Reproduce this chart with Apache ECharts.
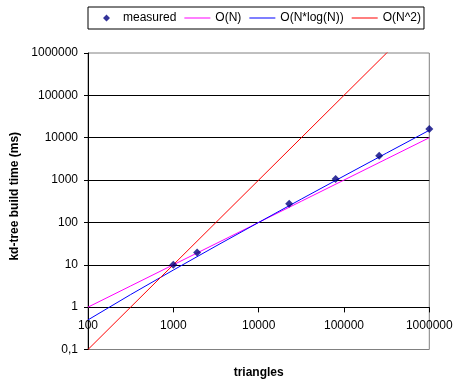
<!DOCTYPE html>
<html>
<head>
<meta charset="utf-8">
<script src="https://cdn.jsdelivr.net/npm/echarts@6/dist/echarts.min.js"></script>
<style>html,body{margin:0;padding:0;background:#fff}#c{width:460px;height:381px}</style>
</head>
<body>
<div id="c"></div>
<script>
// measured data
const measuredX = [1000, 1900, 22800, 79800, 258800, 1000000];
const measuredY = [10, 19.6, 276, 1057, 3750, 16000];
// reference curves
const refX   = [100, 316, 1000, 3162, 10000, 31623, 100000, 316228, 1000000];
const oN     = [1, 3.16, 10, 31.6, 100, 316, 1000, 3162, 10000];
const oNlogN = [0.5, 1.98, 7.5, 27.7, 100, 356, 1250, 4348, 15000];
const oN2    = [0.1, 1, 10, 100, 1000, 10000, 100000, 1000000, 10000000];
// tick labels
const xTickLabels = ['100', '1000', '10000', '100000', '1000000'];
const yTickLabels = ['0,1', '1', '10', '100', '1000', '10000', '100000', '1000000'];
const seriesNames = ['measured', 'O(N)', 'O(N*log(N))', 'O(N^2)'];

const font = 'Arial, "Liberation Sans", sans-serif';
const pairs = (xs, ys) => xs.map((x, i) => [x, ys[i]]);
// icons: tiny corner specks keep the icon bounding box at 26x8
const lineIcon = 'path://M0,0L0.01,0L0.01,0.01ZM0,3.5L26,3.5L26,4.5L0,4.5ZM26,8L25.99,8L25.99,7.99Z';
const diamondIcon = 'path://M0,0L0.01,0L0.01,0.01ZM14.5,0.5L18,4L14.5,7.5L11,4ZM26,8L25.99,8L25.99,7.99Z';
const chart = echarts.init(document.getElementById('c'), null, {renderer: 'canvas'});
chart.setOption({
  animation: false,
  backgroundColor: '#fff',
  textStyle: {fontFamily: font},
  legend: {
    left: 88, top: 7,
    borderColor: '#000', borderWidth: 1,
    padding: [5, 3, 5, 4],
    itemWidth: 26, itemHeight: 8, itemGap: 8,
    symbolKeepAspect: true,
    textStyle: {fontSize: 12, color: '#000', fontFamily: font},
    data: [
      {name: seriesNames[0], icon: diamondIcon, textStyle: {width: 60}},
      {name: seriesNames[1], icon: lineIcon},
      {name: seriesNames[2], icon: lineIcon},
      {name: seriesNames[3], icon: lineIcon}
    ]
  },
  grid: [
    {left: 88, right: 30.7, top: 53, bottom: 31.5, outerBoundsMode: 'none', containLabel: false,
     show: true, borderColor: '#808080', borderWidth: 1, backgroundColor: 'transparent'},
    {left: 88, right: 30.7, top: 53, bottom: 73.6, outerBoundsMode: 'none', containLabel: false}
  ],
  xAxis: [
    {gridIndex: 0, type: 'log', logBase: 10, min: 100, max: 1000000, show: false},
    {gridIndex: 1, type: 'log', logBase: 10, min: 100, max: 1000000,
     axisLine: {show: true, lineStyle: {color: '#000', width: 1}},
     axisTick: {show: true, inside: false, length: 5, lineStyle: {color: '#000'}},
     axisLabel: {margin: 12, fontSize: 12, color: '#000', fontFamily: font,
       formatter: v => xTickLabels[Math.round(Math.log10(v)) - 2]},
     splitLine: {show: false},
     name: 'triangles', nameLocation: 'middle', nameGap: 59,
     nameTextStyle: {fontSize: 12, fontWeight: 'bold', color: '#000', fontFamily: font}}
  ],
  yAxis: [
    {gridIndex: 0, type: 'log', logBase: 10, min: 0.1, max: 1000000,
     axisLine: {show: true, lineStyle: {color: '#000', width: 1}},
     axisTick: {show: true, inside: false, length: 4, lineStyle: {color: '#000'}},
     axisLabel: {margin: 10, fontSize: 12, color: '#000', fontFamily: font,
       formatter: v => yTickLabels[Math.round(Math.log10(v)) + 1]},
     splitLine: {show: true, showMinLine: false, showMaxLine: false, lineStyle: {color: '#000', width: 1}},
     name: 'kd-tree build time (ms)', nameLocation: 'middle', nameGap: 61, nameRotate: 90,
     nameTextStyle: {fontSize: 12, fontWeight: 'bold', color: '#000', fontFamily: font, padding: [0, 0, 0, 10]}},
    {gridIndex: 1, type: 'value', min: 0, max: 1, show: false}
  ],
  series: [
    {name: seriesNames[1], type: 'line', xAxisIndex: 0, yAxisIndex: 0, data: pairs(refX, oN),
     showSymbol: false, symbol: 'none', clip: true, color: '#ff00ff', lineStyle: {color: '#ff00ff', width: 1}, z: 2},
    {name: seriesNames[2], type: 'line', xAxisIndex: 0, yAxisIndex: 0, data: pairs(refX, oNlogN),
     showSymbol: false, symbol: 'none', clip: true, color: '#0000ff', lineStyle: {color: '#0000ff', width: 1}, z: 2},
    {name: seriesNames[3], type: 'line', xAxisIndex: 0, yAxisIndex: 0, data: pairs(refX, oN2),
     showSymbol: false, symbol: 'none', clip: true, color: '#ff0000', lineStyle: {color: '#ff0000', width: 1}, z: 2},
    {name: seriesNames[0], type: 'scatter', xAxisIndex: 0, yAxisIndex: 0, data: pairs(measuredX, measuredY),
     symbol: 'diamond', symbolSize: 8, color: '#000080', itemStyle: {color: '#000080'}, z: 5}
  ]
});
</script>
</body>
</html>
